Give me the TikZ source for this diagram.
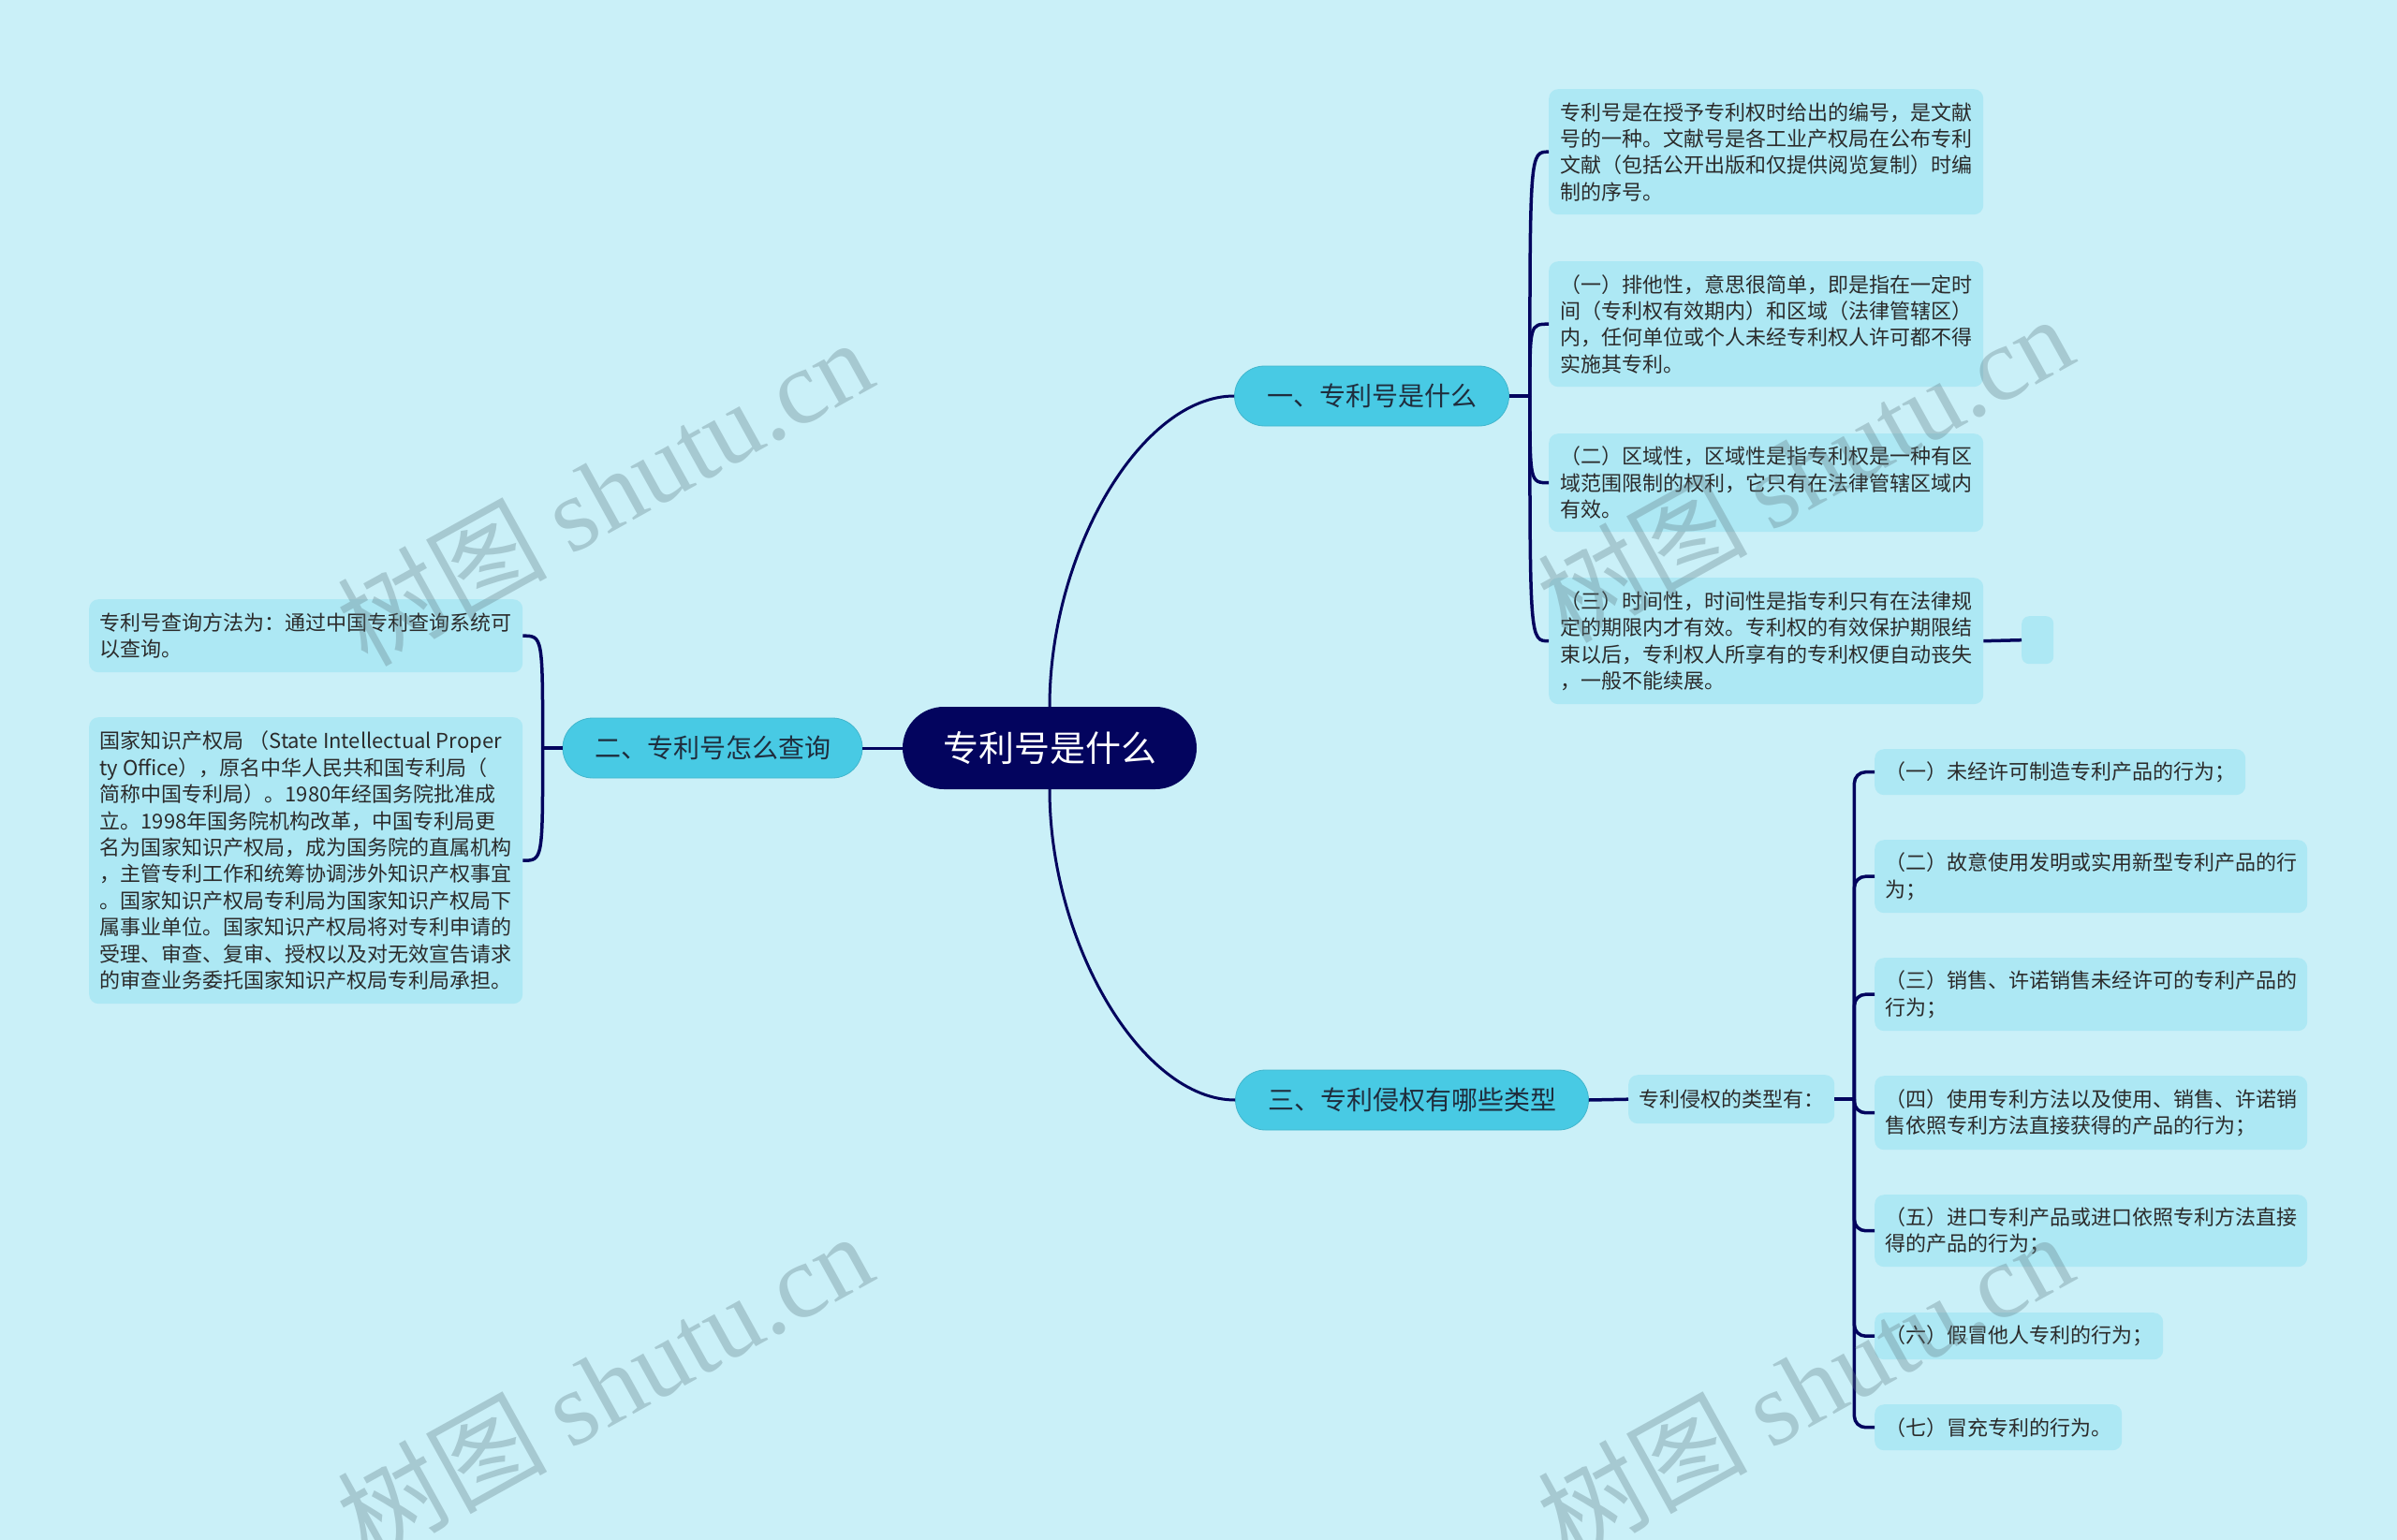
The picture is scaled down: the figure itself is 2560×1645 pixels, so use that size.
\documentclass[tikz,border=0pt]{standalone}
\usepackage{fontspec}
\setmainfont{Noto Sans CJK SC}
\newfontfamily\wmserif{Liberation Serif}
\usetikzlibrary{calc}
\definecolor{bgc}{HTML}{CAF0F8}
\definecolor{leafc}{HTML}{ADE8F4}
\definecolor{branchc}{HTML}{48CAE4}
\definecolor{rootc}{HTML}{03045E}
\definecolor{linec}{HTML}{03045E}
\definecolor{txtc}{HTML}{2B2B2B}
\definecolor{btxt}{HTML}{1F2D3D}
\definecolor{wmc}{HTML}{5F7A82}
\begin{document}
\begin{tikzpicture}[x=1pt,y=-1pt,
  leaf/.style={fill=leafc, rounded corners=10pt, align=left, inner xsep=11pt, inner ysep=4pt,
    anchor=north west, text=txtc, font=\fontsize{22}{28.4}\selectfont},
  branch/.style={fill=branchc, draw=branchc!90!black, line width=0.8pt, rounded corners=32pt,
    minimum height=64pt, text=btxt, font=\fontsize{28}{32}\selectfont},
  rootnode/.style={fill=rootc, rounded corners=44pt, minimum width=314pt, minimum height=88pt,
    text=white, font=\fontsize{38}{42}\selectfont},
  conn/.style={draw=linec, line width=3pt},
  bracket/.style={draw=linec, line width=3.5pt},
  wm/.style={text=wmc, opacity=0.33, rotate=29, font=\fontsize{112}{112}\selectfont}
]
\useasboundingbox (0,0) rectangle (2560,1645);
\fill[bgc] (0,0) rectangle (2560,1645);

% root and branches
\node[rootnode] (root) at (1121,799) {专利号是什么};
\node[branch, minimum width=293pt] (b1) at (1465,423) {一、专利号是什么};
\node[branch, minimum width=320pt] (b2) at (761,799) {二、专利号怎么查询};
\node[branch, minimum width=377pt] (b3) at (1508,1175) {三、专利侵权有哪些类型};

% branch 1 leaves
\node[leaf, minimum width=464pt, minimum height=134pt] (L1) at (1654,95)
 {专利号是在授予专利权时给出的编号，是文献\\号的一种。文献号是各工业产权局在公布专利\\文献（包括公开出版和仅提供阅览复制）时编\\制的序号。};
\node[leaf, minimum width=464pt, minimum height=134pt] (L2) at (1654,279)
 {（一）排他性，意思很简单，即是指在一定时\\间（专利权有效期内）和区域（法律管辖区）\\内，任何单位或个人未经专利权人许可都不得\\实施其专利。};
\node[leaf, minimum width=464pt, minimum height=105pt] (L3) at (1654,463)
 {（二）区域性，区域性是指专利权是一种有区\\域范围限制的权利，它只有在法律管辖区域内\\有效。};
\node[leaf, minimum width=464pt, minimum height=135pt] (L4) at (1654,617)
 {（三）时间性，时间性是指专利只有在法律规\\定的期限内才有效。专利权的有效保护期限结\\束以后，专利权人所享有的专利权便自动丧失\\，一般不能续展。};
\node[leaf, rounded corners=8pt, minimum width=34pt, minimum height=51pt, inner sep=0pt] (SB) at (2159,658) {};

% branch 2 leaves
\node[leaf, minimum width=463pt, minimum height=78pt] (LL1) at (95,640)
 {专利号查询方法为：通过中国专利查询系统可\\以查询。};
\node[leaf, minimum width=463pt, minimum height=306pt] (LL2) at (95,766)
 {\mbox{国家知识产权局 （State Intellectual Proper}\\\mbox{ty Office），原名中华人民共和国专利局（}\\简称中国专利局）。1980年经国务院批准成\\立。1998年国务院机构改革，中国专利局更\\名为国家知识产权局，成为国务院的直属机构\\，主管专利工作和统筹协调涉外知识产权事宜\\。国家知识产权局专利局为国家知识产权局下\\属事业单位。国家知识产权局将对专利申请的\\受理、审查、复审、授权以及对无效宣告请求\\的审查业务委托国家知识产权局专利局承担。};

% branch 3
\node[leaf, minimum width=220pt, minimum height=52pt] (T) at (1739,1148) {专利侵权的类型有：};
\node[leaf, minimum width=396pt, minimum height=49pt] (R1) at (2002,800) {（一）未经许可制造专利产品的行为；};
\node[leaf, minimum width=462pt, minimum height=78pt] (R2) at (2002,897) {（二）故意使用发明或实用新型专利产品的行\\为；};
\node[leaf, minimum width=462pt, minimum height=78pt] (R3) at (2002,1023) {（三）销售、许诺销售未经许可的专利产品的\\行为；};
\node[leaf, minimum width=462pt, minimum height=79pt] (R4) at (2002,1149) {（四）使用专利方法以及使用、销售、许诺销\\售依照专利方法直接获得的产品的行为；};
\node[leaf, minimum width=462pt, minimum height=77pt] (R5) at (2002,1276) {（五）进口专利产品或进口依照专利方法直接\\得的产品的行为；};
\node[leaf, minimum width=308pt, minimum height=50pt] (R6) at (2002,1402) {（六）假冒他人专利的行为；};
\node[leaf, minimum width=264pt, minimum height=49pt] (R7) at (2002,1500) {（七）冒充专利的行为。};

% connectors: root to branches
\draw[conn] (root.north) .. controls +(0,-166) and +(-99,0) .. (b1.west);
\draw[conn] (root.south) .. controls +(0,166) and +(-99,0) .. (b3.west);
\draw[conn] (root.west) -- (b2.east);

% branch 1 bracket
\coordinate (sp1) at ($(b1.east)+(22,0)$);
\draw[bracket] (b1.east) -- (sp1);
\foreach \n in {L1,L2,L3,L4}
  \draw[bracket] (sp1) .. controls (sp1 |- \n.west) .. (\n.west);
\draw[bracket] (L4.east) -- (SB.west);

% branch 2 bracket
\coordinate (sp2) at ($(b2.west)+(-21,0)$);
\draw[bracket] (b2.west) -- (sp2);
\foreach \n in {LL1,LL2}
  \draw[bracket] (sp2) .. controls (sp2 |- \n.east) .. (\n.east);

% branch 3
\draw[bracket] (b3.east) -- (T.west);
\coordinate (sp3) at ($(T.east)+(21,0)$);
\draw[bracket] (T.east) -- (sp3);
\foreach \n in {R1,R2,R3,R4,R5,R6,R7}
  \draw[bracket, rounded corners=12pt] (sp3) |- (\n.west);

% watermarks
\node[wm] (wm1) at (645,525) {树图 {\wmserif shutu.cn}};
\node[wm] (wm2) at (1927,500) {树图 {\wmserif shutu.cn}};
\node[wm] (wm3) at (645,1480) {树图 {\wmserif shutu.cn}};
\node[wm] (wm4) at (1927,1480) {树图 {\wmserif shutu.cn}};
\end{tikzpicture}
\end{document}
